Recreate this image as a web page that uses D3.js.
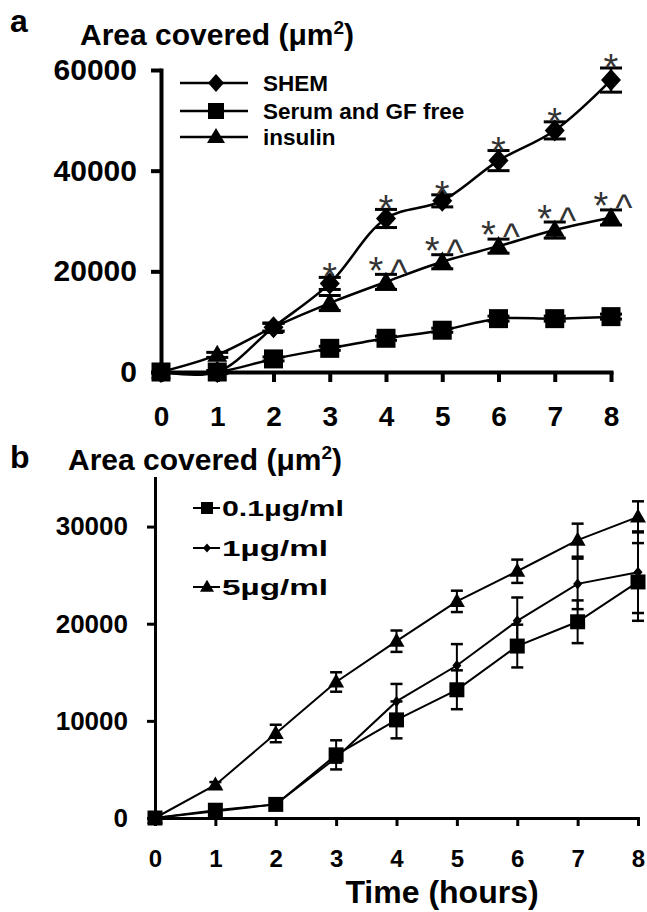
<!DOCTYPE html>
<html>
<head>
<meta charset="utf-8">
<script src="https://cdn.jsdelivr.net/npm/d3@7"></script>
<style>
  body { margin: 0; background: #fff; }
  text { font-family: "Liberation Sans", Arial, sans-serif; }
</style>
</head>
<body>
<div id="chart"></div>
<script>
// Dados (hora 0..8)
const hours = [0, 1, 2, 3, 4, 5, 6, 7, 8];

// Painel a
const shem        = [0, 0, 8900, 17600, 30500, 34000, 42000, 48000, 58000];
const shemErr     = [0, 0, 800, 1200, 1800, 1200, 2000, 1700, 2400];
const serumFree   = [0, 0, 2600, 4700, 6700, 8300, 10600, 10600, 11000];
const serumErr    = [0, 300, 400, 400, 400, 400, 500, 500, 500];
const insulin     = [0, 3400, 8900, 13700, 17900, 21900, 25000, 28200, 30700];
const insulinErr  = [0, 500, 800, 1500, 1500, 1400, 1400, 1600, 1500];
const starsShem    = [3, 4, 5, 6, 7, 8];
const starsInsulin = [4, 5, 6, 7, 8];
const yTicksA = [0, 20000, 40000, 60000];
const legendA = ["SHEM", "Serum and GF free", "insulin"];

// Painel b
const dose01    = [0, 800, 1400, 6500, 10100, 13200, 17700, 20200, 24300];
const dose01Err = [0, 200, 200, 1500, 1900, 2000, 2200, 2200, 4000];
const dose1     = [0, 700, 1400, 6200, 12000, 15700, 20300, 24100, 25300];
const dose1Err  = [0, 0, 0, 500, 1800, 2200, 2400, 2600, 4200];
const dose5     = [0, 3400, 8700, 14000, 18200, 22300, 25400, 28600, 31000];
const dose5Err  = [0, 300, 900, 1000, 1100, 1100, 1200, 1700, 1600];
const yTicksB = [0, 10000, 20000, 30000];
const legendB = ["0.1\u00b5g/ml", "1\u00b5g/ml", "5\u00b5g/ml"];

const width = 647;
const height = 912;
const font = "'Liberation Sans', Arial, sans-serif";

const svg = d3.select("#chart")
    .append("svg")
    .attr("width", width)
    .attr("height", height);

// Marcadores
function diamond(w, h) {
    return `M0,${-h / 2}L${w / 2},0L0,${h / 2}L${-w / 2},0Z`;
}
function square(s) {
    return `M${-s / 2},${-s / 2}h${s}v${s}h${-s}Z`;
}
function triangle(w, h) {
    return `M0,${-h * 0.6}L${w / 2},${h * 0.4}L${-w / 2},${h * 0.4}Z`;
}

// Desenha uma série com barras de erro
function drawSeries(g, x, y, values, errs, shape, opts) {
    const pts = hours.map((h, i) => ({ h: h, v: values[i], e: errs[i] }));

    const bars = g.append("g");
    pts.filter(d => d.e > 0).forEach(d => {
        bars.append("line")
            .attr("x1", x(d.h)).attr("x2", x(d.h))
            .attr("y1", y(d.v + d.e)).attr("y2", y(d.v - d.e))
            .attr("stroke", "#000").attr("stroke-width", opts.barWidth);
        [d.v + d.e, d.v - d.e].forEach(v => {
            bars.append("line")
                .attr("x1", x(d.h) - opts.cap / 2).attr("x2", x(d.h) + opts.cap / 2)
                .attr("y1", y(v)).attr("y2", y(v))
                .attr("stroke", "#000").attr("stroke-width", opts.capWidth);
        });
    });

    const line = d3.line()
        .x(d => x(d.h))
        .y(d => y(d.v))
        .curve(opts.curve);

    g.append("path")
        .datum(pts)
        .attr("fill", "none")
        .attr("stroke", "#000")
        .attr("stroke-width", opts.lineWidth)
        .attr("d", line);

    g.append("g").selectAll("path")
        .data(pts)
        .enter()
        .append("path")
        .attr("transform", d => `translate(${x(d.h)},${y(d.v)})`)
        .attr("d", shape)
        .attr("fill", "#000");
}

function styleAxis(g, lw, fs) {
    g.select(".domain").attr("stroke-width", lw).attr("stroke-linecap", "square");
    g.selectAll(".tick line").attr("stroke-width", lw);
    g.selectAll(".tick text")
        .attr("font-family", font)
        .attr("font-weight", "bold")
        .attr("font-size", fs)
        .attr("fill", "#000");
}

// ---------------- Painel a ----------------
const xA = d3.scaleLinear().domain([0, 8]).range([161, 611]);
const yA = d3.scaleLinear().domain([0, 60000]).range([372, 70]);

const gA = svg.append("g");

gA.append("g")
    .attr("transform", `translate(0,${yA(0)})`)
    .call(d3.axisBottom(xA).tickValues(hours).tickSize(10).tickSizeOuter(0).tickPadding(24).tickFormat(d3.format("d")))
    .call(g => styleAxis(g, 4, 28));

gA.append("g")
    .attr("transform", `translate(${xA(0)},0)`)
    .call(d3.axisLeft(yA).tickValues(yTicksA).tickSize(10).tickSizeOuter(0).tickPadding(14).tickFormat(d3.format("d")))
    .call(g => styleAxis(g, 4, 30));

const optsA = { barWidth: 2.5, cap: 22, capWidth: 3, lineWidth: 2.5, curve: d3.curveCatmullRom.alpha(0.5) };
drawSeries(gA, xA, yA, serumFree, serumErr, square(19), optsA);
drawSeries(gA, xA, yA, insulin, insulinErr, triangle(20, 17), optsA);
drawSeries(gA, xA, yA, shem, shemErr, diamond(20, 22), optsA);

// Asteriscos e acentos
function mark(g, x, cy, txt, fs, off) {
    g.append("text")
        .attr("x", x)
        .attr("y", cy + off)
        .attr("text-anchor", "middle")
        .attr("font-family", font)
        .attr("font-size", fs)
        .attr("fill", "#333")
        .text(txt);
}
starsShem.forEach(h => {
    const i = hours.indexOf(h);
    mark(gA, xA(h), yA(shem[i] + shemErr[i]) - 8, "*", 38, 21);
});
starsInsulin.forEach(h => {
    const i = hours.indexOf(h);
    const cy = yA(insulin[i]) - 19;
    mark(gA, xA(h) - 10, cy, "*", 38, 21);
    mark(gA, xA(h) + 13, cy, "^", 36, 22);
});

// Legenda a
const shapesA = [diamond(16, 18), square(16), triangle(18, 15)];
legendA.forEach((label, i) => {
    const ly = [83, 111, 137][i];
    gA.append("line")
        .attr("x1", 180).attr("x2", 248)
        .attr("y1", ly).attr("y2", ly)
        .attr("stroke", "#000").attr("stroke-width", 2.5);
    gA.append("path")
        .attr("transform", `translate(216,${ly})`)
        .attr("d", shapesA[i]);
    gA.append("text")
        .attr("x", 263).attr("y", ly + 8)
        .attr("font-family", font)
        .attr("font-weight", "bold")
        .attr("font-size", 22.5)
        .text(label);
});

// Títulos a
gA.append("text")
    .attr("x", 10).attr("y", 32)
    .attr("font-family", font).attr("font-weight", "bold").attr("font-size", 32)
    .text("a");
const titleA = gA.append("text")
    .attr("x", 80).attr("y", 45)
    .attr("font-family", font).attr("font-weight", "bold").attr("font-size", 30);
titleA.append("tspan").text("Area covered (\u03bcm");
titleA.append("tspan").attr("font-size", 19).attr("dy", -11).text("2");
titleA.append("tspan").attr("dy", 11).text(")");

// ---------------- Painel b ----------------
const xB = d3.scaleLinear().domain([0, 8]).range([155, 638]);
const yB = d3.scaleLinear().domain([0, 35000]).range([818, 478]);

const gB = svg.append("g");

gB.append("g")
    .attr("transform", `translate(0,${yB(0)})`)
    .call(d3.axisBottom(xB).tickValues(hours).tickSize(8).tickSizeOuter(0).tickPadding(24).tickFormat(d3.format("d")))
    .call(g => styleAxis(g, 3, 24));

gB.append("g")
    .attr("transform", `translate(${xB(0)},0)`)
    .call(d3.axisLeft(yB).tickValues(yTicksB).tickSize(8).tickSizeOuter(0).tickPadding(19).tickFormat(d3.format("d")))
    .call(g => styleAxis(g, 3, 26));

const optsB = { barWidth: 2, cap: 12, capWidth: 2.5, lineWidth: 2, curve: d3.curveLinear };
drawSeries(gB, xB, yB, dose01, dose01Err, square(15), optsB);
drawSeries(gB, xB, yB, dose1, dose1Err, diamond(9, 11), optsB);
drawSeries(gB, xB, yB, dose5, dose5Err, triangle(16, 14), optsB);

// Legenda b
const shapesB = [square(12), diamond(8, 9), triangle(14, 12)];
const legendBWidths = [122, 106, 106];
legendB.forEach((label, i) => {
    const ly = [508, 548, 587][i];
    gB.append("line")
        .attr("x1", 193).attr("x2", 220)
        .attr("y1", ly).attr("y2", ly)
        .attr("stroke", "#000").attr("stroke-width", 2);
    gB.append("path")
        .attr("transform", `translate(207,${ly})`)
        .attr("d", shapesB[i]);
    gB.append("text")
        .attr("x", 222).attr("y", ly + 8)
        .attr("font-family", font)
        .attr("font-weight", "bold")
        .attr("font-size", 22)
        .attr("textLength", legendBWidths[i])
        .attr("lengthAdjust", "spacingAndGlyphs")
        .text(label);
});

// Títulos b
gB.append("text")
    .attr("x", 10).attr("y", 468)
    .attr("font-family", font).attr("font-weight", "bold").attr("font-size", 32)
    .text("b");
const titleB = gB.append("text")
    .attr("x", 68).attr("y", 470)
    .attr("font-family", font).attr("font-weight", "bold").attr("font-size", 30);
titleB.append("tspan").text("Area covered (\u03bcm");
titleB.append("tspan").attr("font-size", 19).attr("dy", -11).text("2");
titleB.append("tspan").attr("dy", 11).text(")");

gB.append("text")
    .attr("x", 442).attr("y", 903)
    .attr("text-anchor", "middle")
    .attr("font-family", font).attr("font-weight", "bold").attr("font-size", 32)
    .text("Time (hours)");
</script>
</body>
</html>
